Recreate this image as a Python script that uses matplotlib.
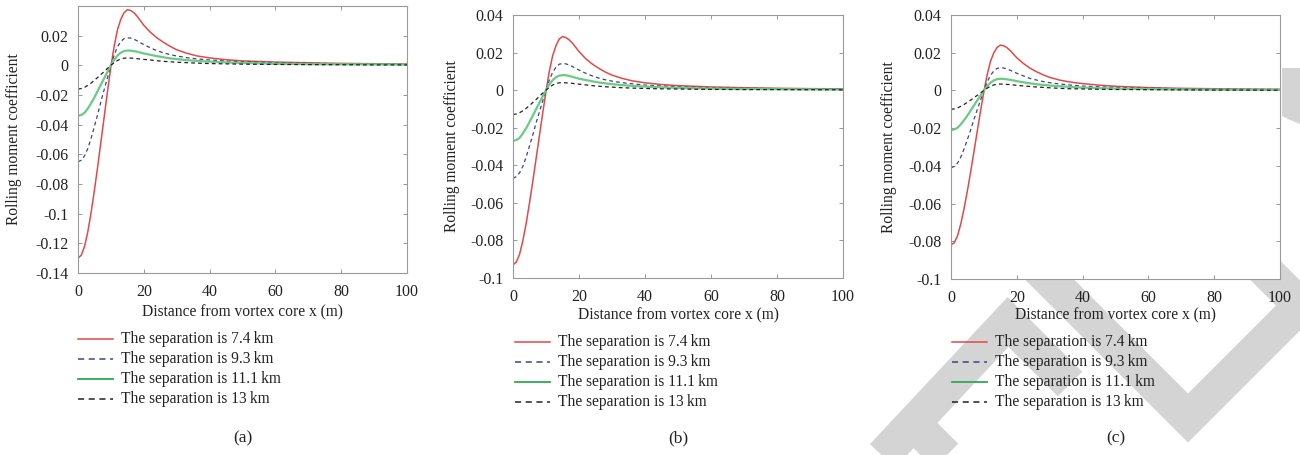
import matplotlib
matplotlib.use('Agg')
import matplotlib.pyplot as plt
from matplotlib.lines import Line2D
from matplotlib.patches import Polygon

plt.rcParams['font.family'] = ['Liberation Serif', 'DejaVu Serif']
plt.rcParams['font.size'] = 11

# distance from vortex core (m)
x = [0, 1, 2, 3, 4, 5, 6, 7, 8, 9, 10, 11, 12, 13, 14, 15, 16, 17, 18, 19, 20,
     22, 24, 26, 28, 30, 33, 36, 40, 45, 50, 60, 70, 80, 90, 100]

# (a)
a_74 = [-0.130, -0.128, -0.122, -0.112, -0.099, -0.084, -0.068, -0.051, -0.034, -0.017, -0.001,
        0.013, 0.024, 0.031, 0.0355, 0.0375, 0.037, 0.0355, 0.033, 0.030, 0.027,
        0.0223, 0.0185, 0.0155, 0.0128, 0.0105, 0.0082, 0.0064, 0.0050, 0.0038, 0.0030,
        0.0022, 0.0017, 0.0013, 0.0011, 0.0009]
a_93 = [-0.065, -0.064, -0.061, -0.056, -0.049, -0.041, -0.033, -0.024, -0.016, -0.008, 0.000,
        0.007, 0.0125, 0.016, 0.018, 0.0185, 0.0184, 0.0176, 0.0165, 0.0152, 0.0140,
        0.0118, 0.0099, 0.0084, 0.0072, 0.0063, 0.0052, 0.0044, 0.0036, 0.0029, 0.0024,
        0.0018, 0.0014, 0.0011, 0.0009, 0.0008]
a_111 = [-0.034, -0.0335, -0.032, -0.029, -0.0255, -0.0215, -0.0172, -0.0128, -0.0085, -0.0042, 0.000,
         0.0037, 0.0066, 0.0085, 0.0096, 0.010, 0.0099, 0.0096, 0.0092, 0.0086, 0.0080,
         0.0071, 0.0062, 0.0054, 0.0047, 0.0042, 0.0035, 0.0030, 0.0025, 0.0020, 0.0016,
         0.0011, 0.0008, 0.0007, 0.0006, 0.0005]
a_13 = [-0.016, -0.0156, -0.0148, -0.0135, -0.0119, -0.0101, -0.0081, -0.0061, -0.0041, -0.002, 0.000,
        0.0018, 0.0033, 0.0043, 0.0048, 0.005, 0.0049, 0.0047, 0.0045, 0.0042, 0.0040,
        0.0036, 0.0031, 0.0027, 0.0024, 0.0021, 0.0018, 0.0015, 0.0012, 0.0010, 0.0008,
        0.0006, 0.0005, 0.0004, 0.0003, 0.0003]

# (b)
b_74 = [-0.093, -0.0915, -0.0873, -0.080, -0.0708, -0.060, -0.0486, -0.0365, -0.0243, -0.0122, -0.0007,
        0.010, 0.0182, 0.0236, 0.0272, 0.0285, 0.028, 0.0268, 0.025, 0.0228, 0.0205,
        0.0168, 0.0139, 0.0116, 0.0096, 0.0080, 0.0063, 0.0050, 0.0039, 0.0030, 0.0024,
        0.0017, 0.0013, 0.0010, 0.0008, 0.0007]
b_93 = [-0.047, -0.046, -0.044, -0.0405, -0.0355, -0.0297, -0.0238, -0.0174, -0.0116, -0.0058, 0.000,
        0.0053, 0.0094, 0.0122, 0.0138, 0.0142, 0.014, 0.0134, 0.0126, 0.0116, 0.0107,
        0.0090, 0.0076, 0.0064, 0.0055, 0.0048, 0.0040, 0.0034, 0.0027, 0.0022, 0.0018,
        0.0013, 0.0010, 0.0008, 0.0007, 0.0006]
b_111 = [-0.027, -0.0266, -0.0254, -0.023, -0.0202, -0.017, -0.0136, -0.0101, -0.0067, -0.0033, 0.000,
         0.003, 0.0053, 0.0068, 0.0077, 0.008, 0.0079, 0.0076, 0.0071, 0.0066, 0.0061,
         0.0054, 0.0047, 0.0041, 0.0036, 0.0032, 0.0027, 0.0023, 0.0019, 0.0015, 0.0012,
         0.0008, 0.0006, 0.0005, 0.0004, 0.0003]
b_13 = [-0.013, -0.0127, -0.012, -0.011, -0.0097, -0.0082, -0.0066, -0.005, -0.0033, -0.0016, 0.000,
        0.0015, 0.0027, 0.0035, 0.0039, 0.004, 0.0039, 0.0038, 0.0036, 0.0034, 0.0032,
        0.0028, 0.0024, 0.0021, 0.0018, 0.0016, 0.0013, 0.0011, 0.0009, 0.0007, 0.0006,
        0.0004, 0.0003, 0.0003, 0.0002, 0.0002]

# (c)
c_74 = [-0.082, -0.0807, -0.077, -0.0706, -0.0624, -0.053, -0.0429, -0.0322, -0.0214, -0.0107, -0.0006,
        0.0084, 0.0154, 0.0199, 0.0228, 0.024, 0.0237, 0.0227, 0.0211, 0.0192, 0.0173,
        0.0143, 0.0118, 0.0099, 0.0083, 0.0069, 0.0055, 0.0045, 0.0036, 0.0028, 0.0022,
        0.0015, 0.0011, 0.0009, 0.0007, 0.0006]
c_93 = [-0.041, -0.0403, -0.0385, -0.0353, -0.0309, -0.0259, -0.0208, -0.0152, -0.0101, -0.005, 0.000,
        0.0045, 0.008, 0.0103, 0.0117, 0.012, 0.0119, 0.0114, 0.0107, 0.0099, 0.0091,
        0.0077, 0.0064, 0.0055, 0.0047, 0.0041, 0.0034, 0.0029, 0.0023, 0.0019, 0.0016,
        0.0012, 0.0009, 0.0007, 0.0006, 0.0005]
c_111 = [-0.021, -0.0207, -0.0198, -0.0179, -0.0157, -0.0133, -0.0106, -0.0079, -0.0052, -0.0026, 0.000,
         0.0023, 0.0041, 0.0053, 0.006, 0.0062, 0.0061, 0.0059, 0.0056, 0.0053, 0.0049,
         0.0043, 0.0038, 0.0033, 0.0029, 0.0026, 0.0022, 0.0019, 0.0015, 0.0012, 0.0010,
         0.0007, 0.0005, 0.0004, 0.0003, 0.0003]
c_13 = [-0.010, -0.0098, -0.0093, -0.0084, -0.0074, -0.0063, -0.0051, -0.0038, -0.0026, -0.0013, 0.000,
        0.0012, 0.0022, 0.0029, 0.0033, 0.0034, 0.0033, 0.0032, 0.0031, 0.0029, 0.0027,
        0.0024, 0.0021, 0.0018, 0.0016, 0.0014, 0.0011, 0.0009, 0.0008, 0.0006, 0.0005,
        0.0004, 0.0003, 0.0002, 0.0002, 0.0001]

labels = ['The separation is 7.4\u2009km', 'The separation is 9.3\u2009km',
          'The separation is 11.1\u2009km', 'The separation is 13\u2009km']
styles = [dict(color='#e04a4a', ls='-', lw=1.1),
          dict(color='#3c4488', ls=(0, (3, 2.5)), lw=0.9),
          dict(color='#6cc986', ls='-', lw=1.6),
          dict(color='#222222', ls=(0, (3, 2.5)), lw=0.9)]
legend_styles = [dict(color='#e04848', ls='-', lw=1.1),
                 dict(color='#3c4488', ls=(0, (4, 3)), lw=1.1),
                 dict(color='#2ea850', ls='-', lw=1.3),
                 dict(color='#222222', ls=(0, (4, 3)), lw=1.1)]

panels = [
    dict(series=[a_74, a_93, a_111, a_13], ylim=(-0.14, 0.04),
         yticks=[-0.14, -0.12, -0.1, -0.08, -0.06, -0.04, -0.02, 0, 0.02],
         ylabels=['-0.14', '-0.12', '-0.1', '-0.08', '-0.06', '-0.04', '-0.02', '0', '0.02'],
         rect=[78, 6, 329, 267], ylab_x=22, xlab_y=312, leg=(78, 339), cap='(a)'),
    dict(series=[b_74, b_93, b_111, b_13], ylim=(-0.1, 0.04),
         yticks=[-0.1, -0.08, -0.06, -0.04, -0.02, 0, 0.02, 0.04],
         ylabels=['-0.1', '-0.08', '-0.06', '-0.04', '-0.02', '0', '0.02', '0.04'],
         rect=[513, 15, 330, 263], ylab_x=460, xlab_y=315, leg=(515, 342), cap='(b)'),
    dict(series=[c_74, c_93, c_111, c_13], ylim=(-0.1, 0.04),
         yticks=[-0.1, -0.08, -0.06, -0.04, -0.02, 0, 0.02, 0.04],
         ylabels=['-0.1', '-0.08', '-0.06', '-0.04', '-0.02', '0', '0.02', '0.04'],
         rect=[951, 15, 329, 264], ylab_x=897, xlab_y=315, leg=(952, 342), cap='(c)'),
]

W, H = 1300, 455
fig = plt.figure(figsize=(13, 4.55), dpi=100)


def px(pts):
    return [p[0] / W for p in pts], [1 - p[1] / H for p in pts]


# faint watermark bands behind the charts
wm = dict(color='#d4d4d4', lw=25, solid_capstyle='butt', solid_joinstyle='miter', zorder=0)
for band in [[(862, 478), (1008, 322), (1070, 384)],
             [(1010, 240), (1188, 418), (1320, 286)],
             [(1235, 240), (1320, 325)],
             [(918, 428), (960, 470)]]:
    bx, by = px(band)
    fig.add_artist(Line2D(bx, by, transform=fig.transFigure, **wm))
arc = [(1282, 68), (1300, 68), (1300, 124), (1290, 120), (1282, 116)]
fig.add_artist(Polygon([(p[0] / W, 1 - p[1] / H) for p in arc], closed=True,
                       transform=fig.transFigure, color='#d4d4d4', lw=0, zorder=0))

for p in panels:
    l, t, w, h = p['rect']
    ax = fig.add_axes([l / W, 1 - (t + h) / H, w / W, h / H])
    for ys, st in zip(p['series'], styles):
        ax.plot(x, ys, **st)
    ax.set_xlim(0, 100)
    ax.set_ylim(*p['ylim'])
    ax.set_xticks([0, 20, 40, 60, 80, 100])
    ax.set_yticks(p['yticks'])
    ax.set_yticklabels(p['ylabels'])
    ax.tick_params(direction='in', top=True, right=True, length=3, width=0.6,
                   color='#888888', labelcolor='#222222', labelsize=11.5)
    ax.tick_params(axis='x', pad=8)
    ax.tick_params(axis='y', pad=7)
    for s in ax.spines.values():
        s.set_color('#9a9a9a')
        s.set_linewidth(0.8)
    ax.set_ylabel('Rolling moment coefficient', fontsize=11.2, color='#222222')
    ax.yaxis.set_label_coords((p['ylab_x'] - l) / w, 0.5)
    fig.text((l + w / 2) / W, 1 - p['xlab_y'] / H, 'Distance from vortex core x (m)',
             ha='center', va='center', fontsize=11.2, color='#222222')
    lx, ly = p['leg']
    for i, (lab, st) in enumerate(zip(labels, legend_styles)):
        yy = 1 - (ly + 20 * i) / H
        fig.add_artist(Line2D([lx / W, (lx + 35) / W], [yy, yy], transform=fig.transFigure, **st))
        fig.text((lx + 43) / W, yy, lab, ha='left', va='center', fontsize=11.2, color='#222222')
    fig.text((l + w / 2) / W, 1 - 438 / H, p['cap'], ha='center', va='center',
             fontsize=12.5, color='#222222')

fig.savefig('out.png', dpi=100, facecolor='white')
